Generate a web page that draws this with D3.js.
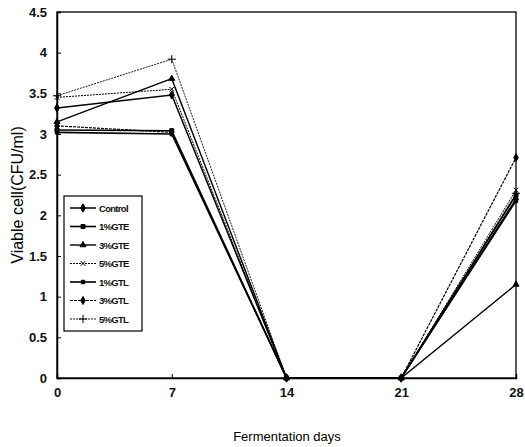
<!DOCTYPE html>
<html><head><meta charset="utf-8">
<script src="https://cdn.jsdelivr.net/npm/d3@7"></script>
<style>body{margin:0;background:#fff;} svg{display:block;}</style>
</head><body>
<svg id="c" width="525" height="447"></svg>
<script>
const days = [0, 7, 14, 21, 28];
const seriesNames = ["Control", "1%GTE", "3%GTE", "5%GTE", "1%GTL", "3%GTL", "5%GTL"];
const control = [3.32, 3.48, 0, 0, 2.20];
const gte1 = [3.05, 3.04, 0, 0, 2.25];
const gte3 = [3.15, 3.68, 0, 0, 1.15];
const gte5 = [3.45, 3.55, 0, 0, 2.31];
const gtl1 = [3.02, 3.00, 0, 0, 2.18];
const gtl3 = [3.10, 3.02, 0, 0, 2.71];
const gtl5 = [3.47, 3.92, 0, 0, 2.27];
const yTicks = [0, 0.5, 1, 1.5, 2, 2.5, 3, 3.5, 4, 4.5];
const xTickLabels = ["0", "7", "14", "21", "28"];

const seriesValues = [control, gte1, gte3, gte5, gtl1, gtl3, gtl5];
const markers = [d3.symbolDiamond, d3.symbolSquare, d3.symbolTriangle, d3.symbolX, d3.symbolSquare, d3.symbolDiamond, d3.symbolPlus];
const markerSize = [20, 16, 16, 16, 12, 18, 24];
const widths = [1.5, 1.6, 1.4, 1.0, 1.6, 1.2, 0.9];
const dashes = [null, null, null, "2,1", null, "3,1", "2,1"];
const strokeOnly = m => m === d3.symbolX || m === d3.symbolPlus;

const svg = d3.select("#c");
const L = 57, R = 516, T = 12, B = 378;
const x = d3.scaleLinear().domain([0, 28]).range([L, R]);
const y = d3.scaleLinear().domain([0, 4.5]).range([B, T]);
const font = "'Liberation Sans', Arial, sans-serif";

// frame
svg.append("rect").attr("x", L).attr("y", T).attr("width", R - L).attr("height", B - T)
  .attr("fill", "none").attr("stroke", "#000").attr("stroke-width", 1.3);

// y axis
const ya = svg.append("g").attr("transform", `translate(${L},0)`)
  .call(d3.axisLeft(y).tickValues(yTicks).tickSize(-4).tickPadding(10).tickFormat(d3.format("")));
ya.select(".domain").attr("stroke-width", 1.5);
ya.selectAll("text").attr("font-family", font).attr("font-size", 13).attr("font-weight", "bold").attr("fill", "#111");

// x axis
const xa = svg.append("g").attr("transform", `translate(0,${B})`)
  .call(d3.axisBottom(x).tickValues(days).tickSize(-4).tickPadding(10).tickFormat((d, i) => xTickLabels[i]));
xa.select(".domain").attr("stroke-width", 1.5);
xa.selectAll("text").attr("font-family", font).attr("font-size", 13).attr("font-weight", "bold").attr("fill", "#111");

// titles
svg.append("text").attr("transform", `translate(23,195) rotate(-90)`).attr("text-anchor", "middle")
  .attr("font-family", font).attr("font-size", 16).attr("fill", "#000").text("Viable cell(CFU/ml)");
svg.append("text").attr("x", 287).attr("y", 441).attr("text-anchor", "middle")
  .attr("font-family", font).attr("font-size", 13).attr("fill", "#000").text("Fermentation days");

// lines
const line = d3.line().x((d, i) => x(days[i])).y(d => y(d));
seriesValues.forEach((vals, s) => {
  svg.append("path").datum(vals).attr("d", line).attr("fill", "none")
    .attr("stroke", "#000").attr("stroke-width", widths[s])
    .attr("stroke-dasharray", dashes[s]);
  svg.append("g").selectAll("path").data(vals).join("path")
    .attr("transform", (d, i) => `translate(${x(days[i])},${y(d)})`)
    .attr("d", d3.symbol().type(markers[s]).size(markerSize[s]))
    .attr("fill", strokeOnly(markers[s]) ? "none" : "#000")
    .attr("stroke", "#000").attr("stroke-width", 1);
});

// legend
const lg = svg.append("g");
lg.append("rect").attr("x", 64).attr("y", 196).attr("width", 78).attr("height", 135)
  .attr("fill", "#fff").attr("stroke", "#000").attr("stroke-width", 1.2);
seriesNames.forEach((name, s) => {
  const ry = 208 + s * 18.5;
  lg.append("line").attr("x1", 70).attr("x2", 96).attr("y1", ry).attr("y2", ry)
    .attr("stroke", "#000").attr("stroke-width", widths[s]).attr("stroke-dasharray", dashes[s]);
  lg.append("path").attr("transform", `translate(83,${ry})`)
    .attr("d", d3.symbol().type(markers[s]).size(markerSize[s]))
    .attr("fill", strokeOnly(markers[s]) ? "none" : "#000")
    .attr("stroke", "#000").attr("stroke-width", 1);
  lg.append("text").attr("x", 99).attr("y", ry + 3.5).attr("font-family", font)
    .attr("font-size", 9.5).attr("font-weight", "bold").attr("letter-spacing", -0.7).attr("fill", "#111").text(name);
});
</script>
</body></html>
